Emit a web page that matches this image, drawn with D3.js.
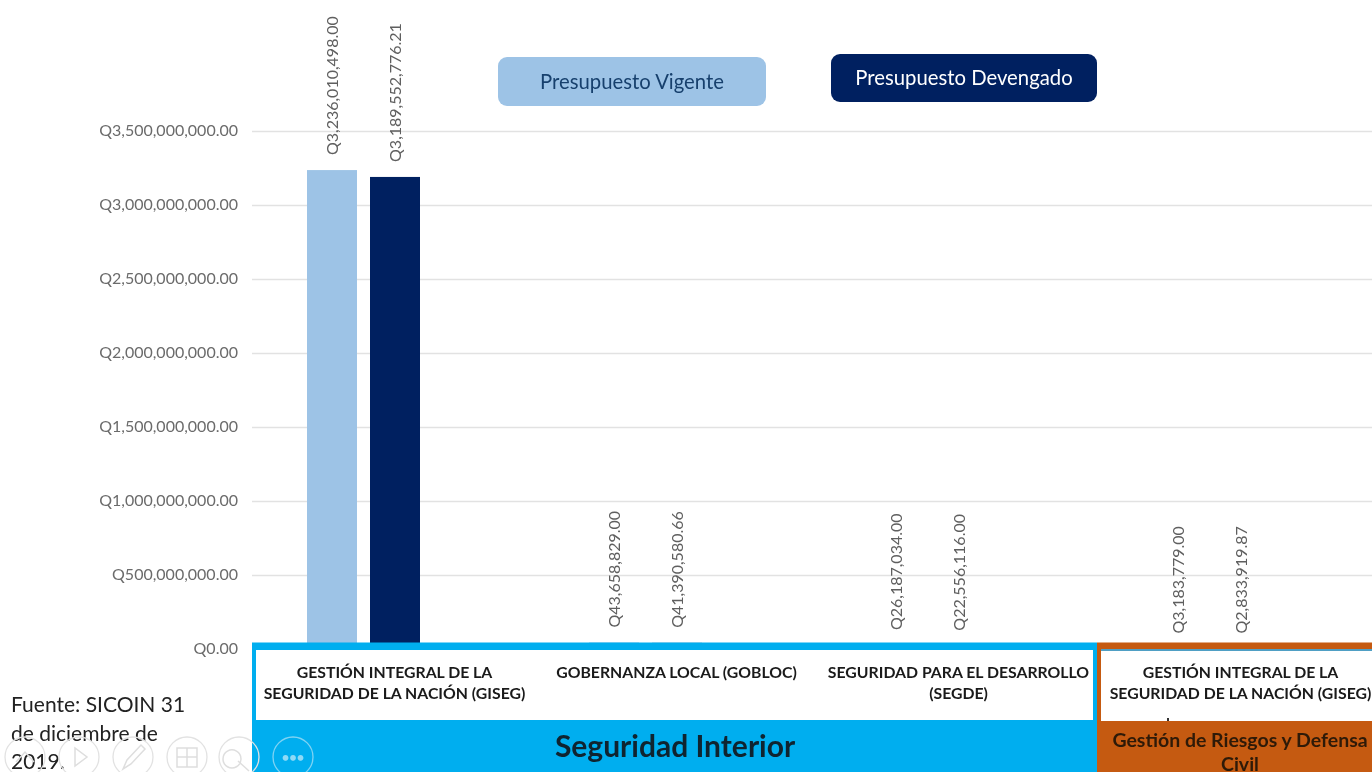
<!DOCTYPE html>
<html>
<head>
<meta charset="utf-8">
<script src="https://cdn.jsdelivr.net/npm/d3@7"></script>
<style>
  html, body { margin: 0; padding: 0; background: #fff; overflow: hidden; }
  text { font-family: Lato, "Open Sans", sans-serif; }
  svg { filter: blur(0.45px); }
</style>
</head>
<body>
<script>
var programas = ["GISEG", "GOBLOC", "SEGDE", "GISEG2"];
var vigente = [3236010498.00, 43658829.00, 26187034.00, 3183779.00];
var devengado = [3189552776.21, 41390580.66, 22556116.00, 2833919.87];
var yTicks = [0, 500000000, 1000000000, 1500000000, 2000000000, 2500000000, 3000000000, 3500000000];
var programaLabels = [
  ["GESTIÓN INTEGRAL DE LA", "SEGURIDAD DE LA NACIÓN (GISEG)"],
  ["GOBERNANZA LOCAL (GOBLOC)"],
  ["SEGURIDAD PARA EL DESARROLLO", "(SEGDE)"],
  ["GESTIÓN INTEGRAL DE LA", "SEGURIDAD DE LA NACIÓN (GISEG)"]
];
var fuente = ["Fuente: SICOIN 31", "de diciembre de", "2019."];

var width = 1372, height = 772;
var azulClaro = "#9dc3e6", azulOscuro = "#002060";

var svg = d3.select("body").append("svg")
  .attr("width", width)
  .attr("height", height)
  .style("display", "block");

var x = d3.scaleBand().domain(programas).range([222.5, 1350.5]);
var y = d3.scaleLinear().domain([0, 3500000000]).range([649, 131]);
var money = d3.format(",.2f");

// gridlines + labels come from the axis
var axis = svg.append("g")
  .attr("transform", "translate(252,0)")
  .call(d3.axisLeft(y).tickValues(yTicks).tickSize(-1120).tickPadding(14)
    .tickFormat(function(d) { return "Q" + money(d); }));
axis.select(".domain").remove();
axis.selectAll("line").attr("stroke", "#e2e2e2").attr("stroke-width", 1.3);
axis.selectAll("text").attr("fill", "#6b6b6b").attr("dy", "0.27em").style("font-size", "16px");

var barW = 50, offset = 31.5;
var series = [
  {values: vigente, color: azulClaro, dx: -offset},
  {values: devengado, color: azulOscuro, dx: offset}
];

series.forEach(function(s) {
  svg.append("g").selectAll("rect")
    .data(s.values)
    .enter().append("rect")
    .attr("x", function(d, i) { return x(programas[i]) + x.bandwidth() / 2 + s.dx - barW / 2; })
    .attr("y", function(d) { return y(d); })
    .attr("width", barW)
    .attr("height", function(d) { return y(0) - y(d); })
    .attr("fill", s.color);

  svg.append("g").selectAll("text")
    .data(s.values)
    .enter().append("text")
    .attr("transform", function(d, i) {
      var cx = x(programas[i]) + x.bandwidth() / 2 + s.dx;
      return "translate(" + cx + "," + (y(d) - 15) + ") rotate(-90)";
    })
    .attr("dy", "0.36em")
    .attr("fill", "#5f5f5f")
    .style("font-size", "16px")
    .text(function(d) { return "Q" + money(d); });
});

// legend pills
function pill(px, py, w, h, fill, txt, color) {
  svg.append("rect").attr("x", px).attr("y", py).attr("width", w).attr("height", h)
    .attr("rx", 9).attr("fill", fill);
  svg.append("text").attr("x", px + w / 2).attr("y", py + h / 2).attr("dy", "0.36em")
    .attr("text-anchor", "middle").attr("fill", color)
    .style("font-size", "20.3px").text(txt);
}
pill(498, 57, 268, 49, azulClaro, "Presupuesto Vigente", "#17406d");
pill(831, 54, 266, 48, azulOscuro, "Presupuesto Devengado", "#ffffff");

// program boxes under the plot, they sit on top of the short bars
svg.append("rect").attr("x", 252).attr("y", 642.5).attr("width", 845).attr("height", 129.5).attr("fill", "#00aeef");
svg.append("rect").attr("x", 256).attr("y", 650).attr("width", 837).attr("height", 70).attr("fill", "#fff");
svg.append("rect").attr("x", 1097).attr("y", 642.5).attr("width", 275).attr("height", 129.5).attr("fill", "#c55a11");
svg.append("rect").attr("x", 1101).attr("y", 649).attr("width", 271).attr("height", 2).attr("fill", "#4f9fc4");
svg.append("rect").attr("x", 1101).attr("y", 651).attr("width", 271).attr("height", 70).attr("fill", "#fff");
svg.append("rect").attr("x", 1167).attr("y", 718).attr("width", 2).attr("height", 3).attr("fill", "#333");

programaLabels.forEach(function(lines, i) {
  var cx = x(programas[i]) + x.bandwidth() / 2;
  lines.forEach(function(t, j) {
    svg.append("text")
      .attr("x", cx + 31)
      .attr("y", 678 + j * 21)
      .attr("text-anchor", "middle")
      .attr("fill", "#1a1a1a")
      .style("font-size", "15.8px")
      .style("font-weight", 700)
      .text(t);
  });
});

svg.append("text").attr("x", 675).attr("y", 757).attr("text-anchor", "middle")
  .attr("fill", "#0f2430").style("font-size", "30px").style("font-weight", 700)
  .text("Seguridad Interior");
svg.append("text").attr("x", 1240).attr("y", 747).attr("text-anchor", "middle")
  .attr("fill", "#2e1a08").style("font-size", "19.5px").style("font-weight", 700)
  .text("Gestión de Riesgos y Defensa");
svg.append("text").attr("x", 1240).attr("y", 771).attr("text-anchor", "middle")
  .attr("fill", "#2e1a08").style("font-size", "19.5px").style("font-weight", 700)
  .text("Civil");

// source note
fuente.forEach(function(t, i) {
  svg.append("text").attr("x", 11).attr("y", 712 + i * 28.5)
    .attr("fill", "#222").style("font-size", "21px").text(t);
});

// slide show player controls left in the screenshot
var controles = [25, 79, 133, 187, 239, 293];
var iconos = [
  "M16 762L25 752L34 762",
  "M75 748L75 766L87 757Z",
  "M123 769L127 760L141 745L145 749L131 764Z",
  "M177 748H197V767H177ZM177 757H197M187 748V767",
  "M241 759A9 9 0 1 1 241 758.9M238 761L249 771"
];
svg.append("g").selectAll("circle")
  .data(controles)
  .enter().append("circle")
  .attr("cx", function(d) { return d; })
  .attr("cy", 757)
  .attr("r", 20)
  .attr("fill", "none")
  .attr("stroke", function(d) { return d == 293 ? "#7fd3f3" : "#e2e2e2"; })
  .attr("stroke-width", 1.3);
svg.append("g").selectAll("path")
  .data(iconos)
  .enter().append("path")
  .attr("d", function(d) { return d; })
  .attr("fill", "none")
  .attr("stroke", "#dedede")
  .attr("stroke-width", 1.5);
svg.append("text").attr("x", 293).attr("y", 757).attr("dy", "0.36em").attr("text-anchor", "middle")
  .attr("fill", "#8fdaf6").style("font-size", "13px").style("font-weight", 700).text("•••");
</script>
</body>
</html>
